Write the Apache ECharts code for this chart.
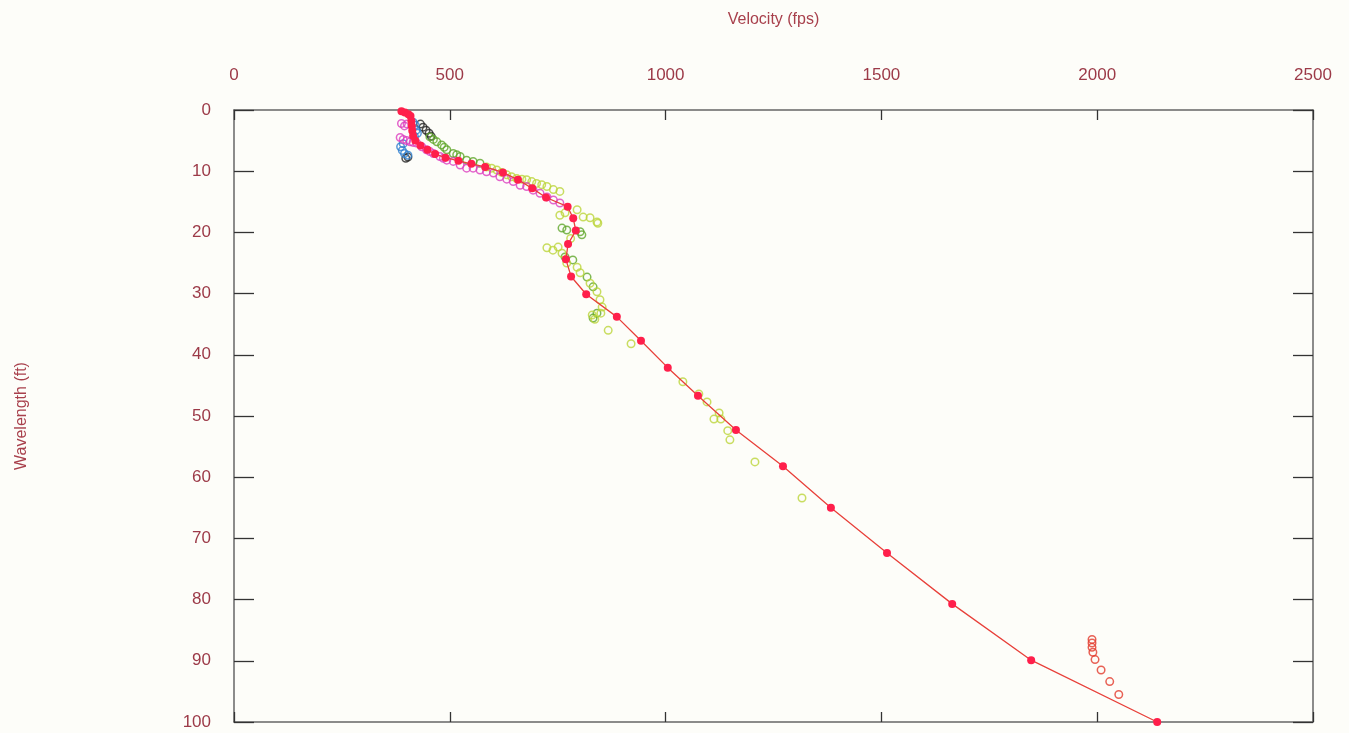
<!DOCTYPE html>
<html>
<head>
<meta charset="utf-8">
<title>Velocity vs Wavelength</title>
<script src="https://cdn.jsdelivr.net/npm/echarts@6/dist/echarts.min.js"></script>
<style>
  html, body { margin: 0; padding: 0; background: #fdfdf9; }
  #chart { width: 1349px; height: 733px; }
</style>
</head>
<body>
<div id="chart"></div>
<script>
// Axis ranges and tick spacing
const velocityTicks = [0, 500, 1000, 1500, 2000, 2500];
const wavelengthTicks = [0, 10, 20, 30, 40, 50, 60, 70, 80, 90, 100];

// Each point is [velocity (fps), wavelength (ft)]
// Fitted dispersion curve (filled red dots joined by a line)
const fitCurve = [
  [388, 0.2], [396, 0.4], [404, 0.7], [409, 1.0], [411, 1.8], [412, 2.6], [413, 3.4],
  [415, 4.2], [420, 5.0], [432, 5.8], [448, 6.5], [466, 7.2], [490, 7.8], [520, 8.3],
  [550, 8.8], [582, 9.3], [623, 10.2], [658, 11.4], [691, 12.8], [723, 14.3], [773, 15.8],
  [786, 17.7], [792, 19.7], [774, 21.9], [769, 24.4], [781, 27.2], [816, 30.1], [887, 33.8],
  [943, 37.7], [1005, 42.1], [1075, 46.7], [1163, 52.3], [1272, 58.2], [1383, 65.0],
  [1513, 72.4], [1664, 80.7], [1847, 89.9], [2139, 100]
];

// Measured dispersion points, one array per record
const recordBlack = [
  [438, 2.8], [445, 3.3], [452, 3.8], [457, 4.3], [432, 2.3], [398, 7.9], [403, 7.7]
];
const recordBlue = [
  [415, 2.0], [420, 2.5], [422, 3.3], [425, 3.8], [418, 4.3],
  [392, 5.5], [386, 6.0], [390, 6.6], [395, 7.1], [403, 7.4]
];
const recordMagenta = [
  [388, 2.2], [395, 2.6], [401, 2.3], [385, 4.5], [392, 4.8], [400, 5.0], [408, 5.2],
  [415, 5.3], [423, 5.4], [435, 6.0], [446, 6.5], [454, 6.8], [462, 7.1], [477, 7.6],
  [485, 7.9], [493, 8.2], [508, 8.4], [524, 9.0], [539, 9.5], [554, 9.5], [570, 9.8],
  [585, 10.1], [601, 10.3], [616, 10.9], [632, 11.3], [647, 11.7], [663, 12.3],
  [678, 12.5], [693, 13.1], [709, 13.6], [725, 14.2], [740, 14.7], [755, 15.2]
];
const recordGreen = [
  [454, 4.4], [462, 4.8], [470, 5.2], [481, 5.7], [487, 6.1], [493, 6.5], [508, 7.1],
  [516, 7.3], [524, 7.6], [539, 8.2], [554, 8.4], [570, 8.7],
  [760, 19.3], [771, 19.6], [802, 19.9], [806, 20.4], [767, 24.0], [785, 24.5],
  [818, 27.3], [832, 28.9], [841, 33.2], [832, 34.0]
];
const recordLime = [
  [585, 9.3], [597, 9.5], [609, 9.8], [620, 10.2], [632, 10.6], [643, 10.9], [655, 11.2],
  [667, 11.3], [678, 11.4], [690, 11.7], [701, 12.0], [713, 12.2], [725, 12.5],
  [740, 13.0], [755, 13.3],
  [755, 17.2], [767, 16.8], [795, 16.3], [809, 17.5], [825, 17.6], [841, 18.3], [843, 18.5],
  [780, 21.0], [725, 22.5], [739, 22.9], [751, 22.4], [760, 23.4], [771, 25.0],
  [795, 25.7], [802, 26.6], [825, 28.3], [841, 29.7], [848, 31.0], [853, 32.2],
  [830, 33.5], [836, 34.2], [850, 33.2], [867, 36.0], [920, 38.2],
  [1040, 44.4], [1077, 46.4], [1096, 47.7], [1112, 50.5], [1128, 50.5], [1124, 49.5],
  [1144, 52.4], [1149, 53.9], [1207, 57.5], [1316, 63.4]
];
const recordDeep = [
  [1988, 86.5], [1988, 87.1], [1988, 87.8], [1990, 88.6], [1995, 89.8],
  [2009, 91.5], [2029, 93.4], [2050, 95.5]
];

const labelColor = '#9c3a48';
const axisColor = '#666666';

function openCircles(data, color, z) {
  return {
    type: 'scatter',
    xAxisIndex: 0,
    yAxisIndex: 0,
    data: data,
    symbol: 'circle',
    symbolSize: 7.5,
    z: z,
    itemStyle: { color: 'rgba(255,255,255,0)', borderColor: color, borderWidth: 1.5 }
  };
}

const plainNumber = function (v) { return String(v); };

const xBase = {
  type: 'value',
  min: velocityTicks[0],
  max: velocityTicks[velocityTicks.length - 1],
  interval: velocityTicks[1] - velocityTicks[0],
  splitLine: { show: false },
  axisLine: { show: true, onZero: false, lineStyle: { color: axisColor, width: 1.5 } },
  axisTick: { show: true, inside: true, length: 10, lineStyle: { color: '#333', width: 1.3 } }
};
const yBase = {
  type: 'value',
  inverse: true,
  min: wavelengthTicks[0],
  max: wavelengthTicks[wavelengthTicks.length - 1],
  interval: wavelengthTicks[1] - wavelengthTicks[0],
  splitLine: { show: false },
  axisLine: { show: true, onZero: false, lineStyle: { color: axisColor, width: 1.5 } },
  axisTick: { show: true, inside: true, length: 20, lineStyle: { color: '#333', width: 1.3 } }
};

const chart = echarts.init(document.getElementById('chart'), null, { renderer: 'canvas' });
chart.setOption({
  backgroundColor: '#fdfdf9',
  animation: false,
  grid: { left: 234, right: 36, top: 110, bottom: 11, containLabel: false },
  xAxis: [
    Object.assign({}, xBase, {
      position: 'top',
      name: 'Velocity (fps)',
      nameLocation: 'middle',
      nameGap: 82,
      nameTextStyle: { color: '#a8404c', fontSize: 16, fontFamily: 'Liberation Sans' },
      axisLabel: { show: true, color: labelColor, fontSize: 17, margin: 26,
                   fontFamily: 'Liberation Sans', formatter: plainNumber }
    }),
    Object.assign({}, xBase, {
      position: 'bottom',
      axisLabel: { show: false }
    })
  ],
  yAxis: [
    Object.assign({}, yBase, {
      position: 'left',
      name: 'Wavelength (ft)',
      nameLocation: 'middle',
      nameGap: 204,
      nameRotate: 90,
      nameTextStyle: { color: '#a8404c', fontSize: 16, fontFamily: 'Liberation Sans' },
      axisLabel: { show: true, color: labelColor, fontSize: 17, margin: 23,
                   fontFamily: 'Liberation Sans', formatter: plainNumber }
    }),
    Object.assign({}, yBase, {
      position: 'right',
      axisLabel: { show: false }
    })
  ],
  series: [
    openCircles(recordBlack, '#262626', 3),
    openCircles(recordBlue, '#2f7fd0', 3),
    openCircles(recordGreen, '#5fa62a', 4),
    openCircles(recordLime, '#bcd43a', 4),
    openCircles(recordMagenta, '#dc3fbf', 5),
    openCircles(recordDeep, '#e2392c', 5),
    {
      type: 'line',
      xAxisIndex: 0,
      yAxisIndex: 0,
      data: fitCurve,
      z: 6,
      symbol: 'circle',
      symbolSize: 8,
      showSymbol: true,
      lineStyle: { color: '#e8403a', width: 1.3 },
      itemStyle: { color: '#ff1f4b', borderWidth: 0 }
    }
  ]
});
</script>
</body>
</html>
